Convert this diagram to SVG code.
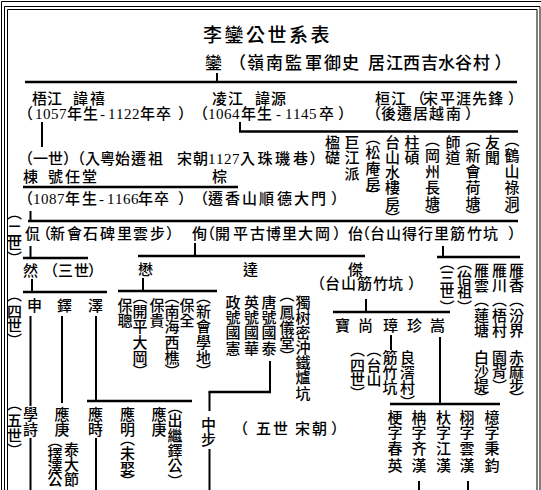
<svg xmlns="http://www.w3.org/2000/svg" width="541" height="490" viewBox="0 0 541 490">
<style>
text{font-family:"Liberation Serif","Noto Sans CJK TC",serif;font-size:15px;font-weight:500;fill:#000}
.v{text-anchor:middle}
.t{font-size:19px}
.s{font-size:17px}
.fr{fill:none;stroke:#000;stroke-width:1}
#connectors path{fill:none;stroke:#000;stroke-width:2}
#connectors path.hz{stroke-width:2.6}
</style>
<rect width="541" height="490" fill="#fff"/>
<g id="frame">
<path class="fr" d="M1.5 490V1.5H541"/>
<path class="fr" d="M4.5 490V6.5H540V490"/>
<path class="fr" d="M7.5 490V9.5H537V490"/>
</g>
<g id="connectors">
<path d="M217 73V82"/>
<path class="hz" d="M25 82H517"/>
<path d="M42 122V147"/>
<path d="M240 122V131.5"/>
<path class="hz" d="M239 131.5H518"/>
<path class="hz" d="M23 187H238"/>
<path d="M30.5 211V221"/>
<path class="hz" d="M28 221H518"/>
<path d="M30.5 246V258"/>
<path class="hz" d="M23 258H88"/>
<path d="M32 279V292"/>
<path class="hz" d="M23 292H107"/>
<path d="M195 243V256"/>
<path class="hz" d="M138 256H365"/>
<path d="M143 278V291"/>
<path class="hz" d="M118 291H217"/>
<path d="M443 246V257"/>
<path class="hz" d="M437 257H520"/>
<path d="M366 299V312"/>
<path class="hz" d="M333 312H450"/>
<path d="M391 335V350"/>
<path d="M440 337V404"/>
<path class="hz" d="M390 404H500"/>
<path d="M30.5 316V406"/>
<path d="M30.5 438V490"/>
<path d="M62 316V403"/>
<path d="M96 316V401"/>
<path class="hz" d="M87 401H192"/>
<path d="M96 438V490"/>
<path d="M270 361V392"/>
<path class="hz" d="M208.5 392H271"/>
<path d="M209.5 392V411"/>
<path d="M209.5 449V490"/>
<path d="M419 481V490"/>
<path d="M468 481V490"/>
</g>
<g id="title"><text class="t" x="203 224.5 246 267.5 289 310.5" y="42">李鑾公世系表</text></g>
<g id="luan"><text class="s" x="205 229 247 266 285 305 324 342 358 368 386 403 421 438 455 473 494.5" y="69">鑾（嶺南監軍御史 居江西吉水谷村）</text></g>
<g id="wujiang">
<text x="32 47 62 73 90" y="104">梧江 諱禧</text>
<text x="18 35 43 51 59 67 83 100 108 116 124 132 140 156 178" y="119">（1057年生-1122年卒）</text>
</g>
<g id="lingjiang">
<text x="212 228 243 255 271" y="104">凌江 諱源</text>
<text x="193 208 216 224 232 241 257 276 285 293 301 309 319 338" y="119">（1064年生-1145卒）</text>
</g>
<g id="huanjiang">
<text x="375 391 410 423 440 456 472 488 508" y="104">桓江（宋平涯先鋒）</text>
<text x="366 381 397 413 429 446 465" y="119">（後遷居越南）</text>
</g>
<g id="gen1"><text x="18 33 48 63 70 85 100 115 131 148 163 177 193 208 216 224 232 240 257.5 275 293 309.5" y="164">（一世）（入粵始遷祖 宋朝1127入珠璣巷）</text></g>
<g id="dong">
<text x="23 38 48 65 82" y="182">棟 號任堂</text>
<text x="18 33 41 49 57 65 82 99 107 115 123 131 138 154 178" y="204">（1087年生-1166年卒）</text>
</g>
<g id="zong">
<text x="212" y="182">棕</text>
<text x="193 208 225 242 259 277 294 311 331" y="204">（遷香山順德大門）</text>
</g>
<g id="lingjiang-branches">
<text class="v" x="332.5 332.5" y="147.5 163">楹礎</text>
<text class="v" x="352 352 352" y="147.5 163 178.5">巨江派</text>
<text class="v" x="373 373 373 373 373" y="143 157.5 174 189.5 201">︵松庵房︶</text>
<text class="v" x="392.5 392.5 392.5 392.5 392.5 392.5" y="147.5 162.5 177.5 192.5 209.5 224">台山水樓房︶</text>
<text class="v" x="412 412" y="147.5 163">柱碩</text>
<text class="v" x="432.5 432.5 432.5 432.5 432.5 432.5" y="145 160.5 176.5 192.5 208.5 222">︵岡州長塘︶</text>
<text class="v" x="453 453" y="147.5 163">師道</text>
<text class="v" x="473 473 473 473 473 473" y="145 160.5 176.5 192.5 208.5 222">︵新會荷塘︶</text>
<text class="v" x="492.5 492.5" y="147.5 163">友聞</text>
<text class="v" x="512 512 512 512 512 512" y="145 160.5 176.5 192.5 208.5 222">︵鶴山祿洞︶</text>
</g>
<g id="gen-labels">
<text class="v" x="14.5 14.5 14.5 14.5" y="218 235.5 248.5 264">︵二世︶</text>
<text class="v" x="14.5 14.5 14.5 14.5" y="300 316.5 330.5 346">︵四世︶</text>
<text class="v" x="14.5 14.5 14.5 14.5" y="409 425.5 440.5 456">︵五世︶</text>
</g>
<g id="gen2">
<text x="25 36 50 67 83 100 117 133 150 166" y="239">侃（新會石碑里雲步）</text>
<text x="192 200 215 233 250 266 282 298 315 333" y="239">侚（開平古博里大岡）</text>
<text x="348 355 370 386 402 418 434 450 467 483 508" y="239">佁（台山得行里筋竹坑）</text>
</g>
<g id="ran"><text x="23 43 58 74 88" y="276">然（三世）</text></g>
<g id="gen4-ran">
<text x="27" y="311">申</text>
<text x="57" y="311">鐸</text>
<text x="88" y="311">澤</text>
</g>
<g id="mao">
<text x="138" y="274.5">懋</text>
<text class="v" x="125 125" y="310.5 325.5">保聰</text>
<text class="v" x="140 140 140 140 140 140" y="302 316.5 331.5 347.5 362.5 377">︵開平大岡︶</text>
<text class="v" x="157 157" y="310.5 325.5">保貴</text>
<text class="v" x="172 172 172 172 172 172" y="302 316.5 331.5 347.5 362.5 377">︵南海西樵︶</text>
<text class="v" x="187 187" y="310.5 325.5">保全</text>
<text class="v" x="203.5 203.5 203.5 203.5 203.5 203.5" y="302 316.5 331.5 347.5 362.5 377">︵新會學地︶</text>
</g>
<g id="da">
<text x="243" y="274.5">達</text>
<text class="v" x="233 233 233 233" y="307.5 322.5 337.5 353.5">政號國憲</text>
<text class="v" x="251.5 251.5 251.5 251.5" y="307.5 322.5 337.5 353.5">英號國華</text>
<text class="v" x="269 269 269 269" y="307.5 322.5 337.5 353.5">唐號國泰</text>
<text class="v" x="287 287 287 287 287" y="300 317.5 332.5 347.5 362">︵鳳儀堂︶</text>
<text class="v" x="303 303 303 303 303 303 303" y="307.5 322.5 337.5 352.5 367.5 382.5 398.5">獨树密沖鐵爐坑</text>
</g>
<g id="jie">
<text x="348" y="274.5">傑</text>
<text x="310 325 341 357 373 388 408" y="289">（台山筋竹坑）</text>
</g>
<g id="jie-sons">
<text x="335" y="331">寶</text>
<text x="358" y="331">尚</text>
<text x="383" y="331">璋</text>
<text x="407" y="331">珍</text>
<text x="430" y="331">嵩</text>
</g>
<g id="zhang-note">
<text class="v" x="357.5 357.5 357.5 357.5" y="355 370.5 384.5 399">︵四世︶</text>
<text class="v" x="374 374 374" y="355 370.5 384.5">︵台山</text>
<text class="v" x="390 390 390" y="362.5 377.5 392.5">筋竹坑</text>
<text class="v" x="407.5 407.5 407.5 407.5" y="362.5 377.5 392.5 408">良滘村︶</text>
</g>
<g id="yi">
<text class="v" x="447 447 447 447" y="268 282.5 296.5 313">︵三世︶</text>
<text class="v" x="464.5 464.5 464.5 464.5" y="268 282.5 296.5 313">︵佁祖︶</text>
<text class="v" x="481.5 481.5 481.5 481.5 481.5 481.5 481.5 481.5 481.5" y="275.5 290.5 305 320.5 335.5 362.5 376.5 390.5 404">雁雲︵蓮塘白沙堤︶</text>
<text class="v" x="499.5 499.5 499.5 499.5 499.5 499.5 499.5 499.5" y="275.5 290.5 305 320.5 335.5 362.5 376.5 392">雁川︵梧村園背︶</text>
<text class="v" x="516.5 516.5 516.5 516.5 516.5 516.5 516.5 516.5 516.5" y="275.5 290.5 305 320.5 335.5 362.5 376.5 390.5 404">雁香︵汾界赤麻步︶</text>
</g>
<g id="gen5">
<text class="v" x="30.5 30.5" y="419.5 434.5">學詩</text>
<text class="v" x="62 62" y="419.5 434.5">應庚</text>
<text class="v" x="71.5 71.5 71.5" y="454.5 469.5 484.5">泰大節</text>
<text class="v" x="55 55 55 55" y="446 459.5 472.5 485">︵擇澤公</text>
<text class="v" x="95.5 95.5" y="419.5 434.5">應時</text>
<text class="v" x="127.5 127.5 127.5 127.5 127.5 127.5" y="419.5 434.5 444 458.5 473.5 487">應明︵未娶︶</text>
<text class="v" x="159 159" y="419.5 434.5">應庚</text>
<text class="v" x="175 175 175 175 175 175" y="412 425.5 440.5 455.5 470.5 487">︵出繼鐸公︶</text>
<text class="v" x="208.5 208.5" y="429.5 444.5">中步</text>
<text x="233 256 273 289 295 312 331" y="434">（五世 宋朝）</text>
</g>
<g id="song-sons">
<text class="v" x="395 395 395 395" y="422.5 437.5 453.5 470.5">梗字春英</text>
<text class="v" x="419 419 419 419" y="422.5 437.5 453.5 470.5">柟字齐漢</text>
<text class="v" x="443.5 443.5 443.5 443.5" y="422.5 437.5 453.5 470.5">杕字江漢</text>
<text class="v" x="467 467 467 467" y="422.5 437.5 453.5 470.5">栩字雲漢</text>
<text class="v" x="492 492 492 492" y="422.5 437.5 453.5 470.5">檍字秉鈞</text>
</g>
</svg>
